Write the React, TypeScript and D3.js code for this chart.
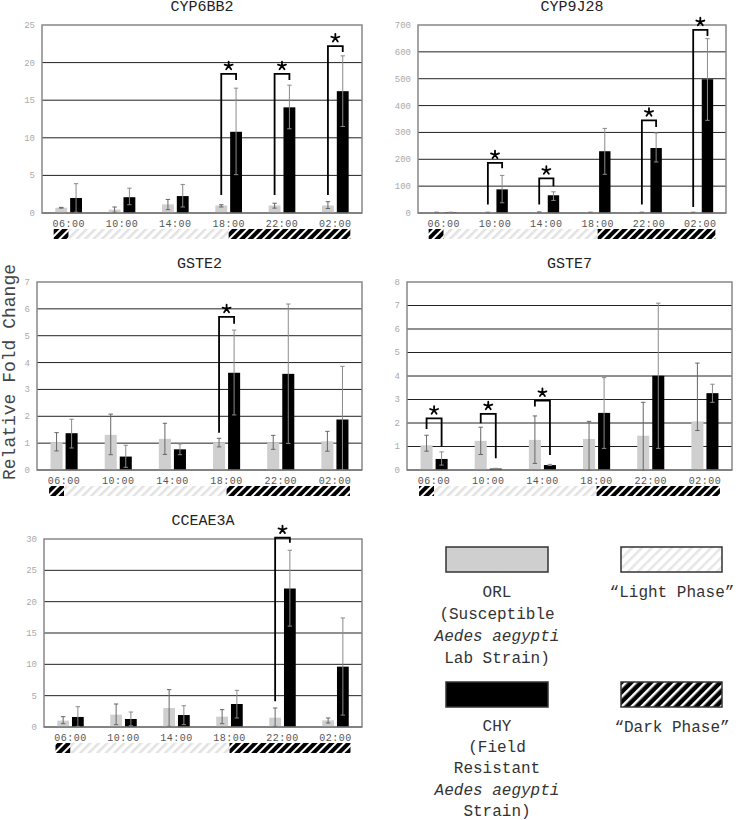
import React from 'react';
import * as d3 from 'd3';

// ---------- DATA ----------
const categories = ['06:00', '10:00', '14:00', '18:00', '22:00', '02:00'];
const lightFrom = '06:00';
const lightTo = '18:00';

// CYP6BB2
const cyp6Orl = [0.7, 0.45, 1.15, 1.0, 1.0, 1.0];
const cyp6OrlLo = [0.65, 0.1, 0.45, 0.8, 0.65, 0.6];
const cyp6OrlHi = [0.75, 0.8, 1.8, 1.1, 1.3, 1.5];
const cyp6Chy = [2.0, 2.1, 2.25, 10.8, 14.05, 16.2];
const cyp6ChyLo = [0.1, 1.1, 0.8, 5.1, 11.2, 11.5];
const cyp6ChyHi = [3.9, 3.3, 3.8, 16.6, 17.0, 20.9];
const cyp6Sig = [
  { i: 3, top: 18.5, left: 2.4, right: 17.7 },
  { i: 4, top: 18.5, left: 2.4, right: 17.7 },
  { i: 5, top: 22.2, left: 2.4, right: 21.4 },
];

// CYP9J28
const cyp9Orl = [2, 2, 3, 2, 2, 2];
const cyp9OrlLo = [1, 1, 2, 1, 1, 1];
const cyp9OrlHi = [3, 3, 4, 3, 3, 3];
const cyp9Chy = [2, 88, 66, 230, 242, 498];
const cyp9ChyLo = [1, 38, 47, 144, 190, 345];
const cyp9ChyHi = [3, 140, 79, 315, 298, 649];
const cyp9Sig = [
  { i: 1, top: 187, left: 32, right: 167 },
  { i: 2, top: 129, left: 32, right: 100 },
  { i: 4, top: 345, left: 32, right: 320 },
  { i: 5, top: 682, left: 22, right: 659 },
];

// GSTE2
const gste2Orl = [1.03, 1.31, 1.16, 1.02, 1.02, 1.07];
const gste2OrlLo = [0.71, 0.57, 0.58, 0.86, 0.77, 0.7];
const gste2OrlHi = [1.39, 2.08, 1.74, 1.18, 1.29, 1.44];
const gste2Chy = [1.37, 0.5, 0.77, 3.62, 3.58, 1.88];
const gste2ChyLo = [0.82, 0.1, 0.57, 2.05, 0.99, 0];
const gste2ChyHi = [1.89, 0.92, 0.97, 5.21, 6.18, 3.86];
const gste2Sig = [{ i: 3, top: 5.7, left: 1.39, right: 5.45 }];

// GSTE7
const gste7Orl = [1.05, 1.24, 1.28, 1.32, 1.46, 2.07];
const gste7OrlLo = [0.8, 0.66, 0.28, 0, 0, 1.68];
const gste7OrlHi = [1.48, 1.82, 2.3, 2.07, 2.88, 4.55];
const gste7Chy = [0.47, 0.06, 0.21, 2.43, 4.01, 3.27];
const gste7ChyLo = [0.21, 0.05, 0.19, 0.92, 0.92, 2.88];
const gste7ChyHi = [0.77, 0.07, 0.24, 3.93, 7.1, 3.65];
const gste7Sig = [
  { i: 0, top: 2.2, left: 1.75, right: 1.0 },
  { i: 1, top: 2.39, left: 1.99, right: 0.5 },
  { i: 2, top: 2.95, left: 2.7, right: 0.64 },
];

// CCEAE3A
const cceOrl = [1.01, 1.97, 3.03, 1.65, 1.49, 1.06];
const cceOrlLo = [0.53, 0.37, 0.1, 0.53, 0.1, 0.64];
const cceOrlHi = [1.65, 3.67, 5.96, 2.77, 3.03, 1.44];
const cceChy = [1.6, 1.28, 1.91, 3.67, 22.1, 9.63];
const cceChyLo = [0.1, 0.2, 0.37, 1.44, 16.1, 1.9];
const cceChyHi = [3.24, 2.39, 3.4, 5.85, 28.2, 17.4];
const cceSig = [{ i: 4, top: 30.2, left: 4.1, right: 29.4 }];

const titles = ['CYP6BB2', 'CYP9J28', 'GSTE2', 'GSTE7', 'CCEAE3A'];
const yMaxes = [25, 700, 7, 8, 30];
const ySteps = [5, 100, 1, 1, 5];

const legendOrl = ['ORL', '(Susceptible', '__Aedes aegypti', 'Lab Strain)'];
const legendChy = ['CHY', '(Field', 'Resistant', '__Aedes aegypti', 'Strain)'];

const panels = [
  { title: titles[0], yMax: yMaxes[0], yStep: ySteps[0], orl: cyp6Orl, orlLo: cyp6OrlLo, orlHi: cyp6OrlHi, chy: cyp6Chy, chyLo: cyp6ChyLo, chyHi: cyp6ChyHi, sig: cyp6Sig },
  { title: titles[1], yMax: yMaxes[1], yStep: ySteps[1], orl: cyp9Orl, orlLo: cyp9OrlLo, orlHi: cyp9OrlHi, chy: cyp9Chy, chyLo: cyp9ChyLo, chyHi: cyp9ChyHi, sig: cyp9Sig },
  { title: titles[2], yMax: yMaxes[2], yStep: ySteps[2], orl: gste2Orl, orlLo: gste2OrlLo, orlHi: gste2OrlHi, chy: gste2Chy, chyLo: gste2ChyLo, chyHi: gste2ChyHi, sig: gste2Sig },
  { title: titles[3], yMax: yMaxes[3], yStep: ySteps[3], orl: gste7Orl, orlLo: gste7OrlLo, orlHi: gste7OrlHi, chy: gste7Chy, chyLo: gste7ChyLo, chyHi: gste7ChyHi, sig: gste7Sig },
  { title: titles[4], yMax: yMaxes[4], yStep: ySteps[4], orl: cceOrl, orlLo: cceOrlLo, orlHi: cceOrlHi, chy: cceChy, chyLo: cceChyLo, chyHi: cceChyHi, sig: cceSig },
];

// ---------- LAYOUT ----------
const layouts = [
  { left: 42, right: 362, top: 25, bottom: 213 },
  { left: 418, right: 726, top: 25, bottom: 213 },
  { left: 37, right: 362, top: 282, bottom: 470 },
  { left: 407, right: 732, top: 282, bottom: 470 },
  { left: 44, right: 362, top: 539, bottom: 727 },
];

const FONT = "'Liberation Mono', 'DejaVu Sans Mono', monospace";
const GREY = '#cfcfcf';

function starPath(cx: number, cy: number, r: number) {
  const p = d3.path();
  for (let k = 0; k < 5; k++) {
    const a = -Math.PI / 2 + (k * 2 * Math.PI) / 5;
    p.moveTo(cx, cy);
    p.lineTo(cx + r * Math.cos(a), cy + r * Math.sin(a));
  }
  return p.toString();
}

function Panel({ p, l }: { p: any; l: any }) {
  const x0 = d3.scaleBand<string>().domain(categories).range([l.left, l.right]).paddingInner(0.5).paddingOuter(0.25);
  const x1 = d3.scaleBand<string>().domain(['orl', 'chy']).range([0, x0.bandwidth()]).paddingInner(0.2);
  const y = d3.scaleLinear().domain([0, p.yMax]).range([l.bottom, l.top]);
  const ticks = d3.range(0, p.yMax + p.yStep / 2, p.yStep);
  const cx = (c: string) => (x0(c) as number) + x0.bandwidth() / 2;
  const bw = x1.bandwidth();
  const cap = 2.2;

  const series = [
    { key: 'orl', vals: p.orl, lo: p.orlLo, hi: p.orlHi, fill: GREY, err: '#666' },
    { key: 'chy', vals: p.chy, lo: p.chyLo, hi: p.chyHi, fill: '#000', err: '#8a8a8a' },
  ];

  const phaseStart = cx(categories[0]) - 15;
  const phaseEnd = cx(categories[categories.length - 1]) + 15;
  const segs = [
    { a: phaseStart, b: cx(lightFrom), ph: 'dark' },
    { a: cx(lightFrom), b: cx(lightTo), ph: 'light' },
    { a: cx(lightTo), b: phaseEnd, ph: 'dark' },
  ];

  return (
    <g>
      <text x={(l.left + l.right) / 2} y={l.top - 14} textAnchor="middle" fontFamily={FONT} fontSize={15} fill="#222">
        {p.title}
      </text>
      {ticks.map((t: number) => (
        <g key={t}>
          {t > 0 && t < p.yMax && (
            <line x1={l.left} x2={l.right} y1={y(t)} y2={y(t)} stroke="#222" strokeWidth={1} />
          )}
          <text x={l.left - 7} y={y(t)} dy="0.33em" textAnchor="end" fontFamily={FONT} fontSize={9} fill="#aaa">
            {t}
          </text>
        </g>
      ))}
      <rect x={l.left} y={l.top} width={l.right - l.left} height={l.bottom - l.top} fill="none" stroke="#888" strokeWidth={1.5} />
      {series.map((s) =>
        categories.map((c, i) => {
          const bx = (x0(c) as number) + (x1(s.key) as number);
          const ex = bx + bw / 2;
          return (
            <g key={s.key + c}>
              <rect x={bx} y={y(s.vals[i])} width={bw} height={y(0) - y(s.vals[i])} fill={s.fill} />
              <line x1={ex} x2={ex} y1={y(s.hi[i])} y2={y(s.lo[i])} stroke={s.err} strokeWidth={1} />
              <line x1={ex - cap} x2={ex + cap} y1={y(s.hi[i])} y2={y(s.hi[i])} stroke={s.err} strokeWidth={1} />
              <line x1={ex - cap} x2={ex + cap} y1={y(s.lo[i])} y2={y(s.lo[i])} stroke={s.err} strokeWidth={1} />
            </g>
          );
        })
      )}
      <line x1={l.left} x2={l.right} y1={l.bottom} y2={l.bottom} stroke="#777" strokeWidth={1.5} />
      {p.sig.map((s: any) => {
        const c = categories[s.i];
        const xa = (x0(c) as number) + (x1('orl') as number) + bw / 2;
        const xb = (x0(c) as number) + (x1('chy') as number) + bw / 2;
        const path = d3.path();
        path.moveTo(xa, y(s.left));
        path.lineTo(xa, y(s.top));
        path.lineTo(xb, y(s.top));
        path.lineTo(xb, y(s.right));
        return (
          <g key={'sig' + s.i}>
            <path d={path.toString()} fill="none" stroke="#000" strokeWidth={1.8} />
            <path d={starPath((xa + xb) / 2, y(s.top) - 8, 4.2)} fill="none" stroke="#000" strokeWidth={1.8} strokeLinecap="round" />
          </g>
        );
      })}
      {categories.map((c) => (
        <text key={'cl' + c} x={cx(c)} y={l.bottom + 14} textAnchor="middle" fontFamily={FONT} fontSize={10} letterSpacing={0.5} fill="#555">
          {c}
        </text>
      ))}
      {segs.map((s, i) => (
        <rect key={'ph' + i} x={s.a} y={l.bottom + 16} width={s.b - s.a} height={10} fill={s.ph === 'dark' ? 'url(#darkPat)' : 'url(#lightPat)'} />
      ))}
    </g>
  );
}

function LegendText({ lines, x, y0, dy }: { lines: string[]; x: number; y0: number; dy: number }) {
  return (
    <g>
      {lines.map((t, i) => {
        const it = t.startsWith('__');
        return (
          <text key={i} x={x} y={y0 + i * dy} textAnchor="middle" fontFamily={FONT} fontSize={16} fill="#333" fontStyle={it ? 'italic' : 'normal'}>
            {it ? t.slice(2) : t}
          </text>
        );
      })}
    </g>
  );
}

export default function App() {
  return (
    <svg width={739} height={820} style={{ position: 'absolute', left: 0, top: 0, background: '#fff' }}>
      <defs>
        <pattern id="darkPat" patternUnits="userSpaceOnUse" width={6} height={6} patternTransform="rotate(45)">
          <rect width={6} height={6} fill="#000" />
          <rect width={2} height={6} fill="#fff" />
        </pattern>
        <pattern id="lightPat" patternUnits="userSpaceOnUse" width={6} height={6} patternTransform="rotate(45)">
          <rect width={6} height={6} fill="#fff" />
          <rect width={2.5} height={6} fill="#e2e2e2" />
        </pattern>
        <pattern id="darkPatL" patternUnits="userSpaceOnUse" width={7} height={7} patternTransform="rotate(45)">
          <rect width={7} height={7} fill="#000" />
          <rect width={2.5} height={7} fill="#fff" />
        </pattern>
        <pattern id="lightPatL" patternUnits="userSpaceOnUse" width={7} height={7} patternTransform="rotate(45)">
          <rect width={7} height={7} fill="#fff" />
          <rect width={2.5} height={7} fill="#e6e6e6" />
        </pattern>
      </defs>
      <rect width={739} height={820} fill="#fff" />
      {panels.map((p, i) => (
        <Panel key={p.title} p={p} l={layouts[i]} />
      ))}
      <text transform="translate(15,372) rotate(-90)" textAnchor="middle" fontFamily={FONT} fontSize={18} fill="#444">
        Relative Fold Change
      </text>
      {/* Legend */}
      <rect x={446} y={547} width={102} height={25} fill={GREY} stroke="#333" strokeWidth={1.5} />
      <LegendText lines={legendOrl} x={497} y0={597} dy={22} />
      <rect x={621} y={547} width={101} height={25} fill="url(#lightPatL)" stroke="#333" strokeWidth={1.5} />
      <LegendText lines={['\u201CLight Phase\u201D']} x={672} y0={597} dy={22} />
      <rect x={446} y={682} width={102} height={25} fill="#000" stroke="#333" strokeWidth={1.5} />
      <LegendText lines={legendChy} x={497} y0={731} dy={21.2} />
      <rect x={621} y={682} width={101} height={25} fill="url(#darkPatL)" stroke="#333" strokeWidth={1.5} />
      <LegendText lines={['\u201CDark Phase\u201D']} x={672} y0={732} dy={22} />
    </svg>
  );
}
